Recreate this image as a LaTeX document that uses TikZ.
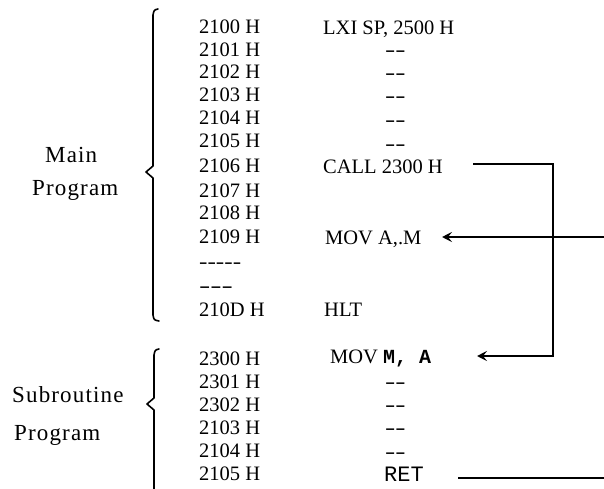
\documentclass[tikz,border=0pt]{standalone}
\usepackage{fontspec}
\setmainfont{Liberation Serif}
\setmonofont{Liberation Mono}
\usetikzlibrary{arrows.meta}
\newcommand{\dsh}[2]{\scalebox{#1}[1]{#2}}
\begin{document}
\begin{tikzpicture}[x=1pt,y=1pt,
  txt/.style={anchor=base west, inner sep=0pt, font=\fontsize{20.5}{24}\selectfont},
  mono/.style={anchor=base west, inner sep=0pt, font=\ttfamily\fontsize{20}{24}\selectfont},
  lbl/.style={anchor=base west, inner sep=0pt, font=\fontsize{23}{27}\selectfont\addfontfeatures{LetterSpace=5}},
  brace/.style={line width=1.6pt, line cap=round, line join=round},
  conn/.style={line width=1.4pt},
  arr/.style={conn, -{Stealth[length=10pt,width=10pt,inset=4pt]}}]
\useasboundingbox (0,0) rectangle (604,-489);

% labels
\node[lbl] (main) at (45,-163) {Main};
\node[lbl] (mprog) at (32,-195) {Program};
\node[lbl] (sub) at (12,-402) {Subroutine};
\node[lbl] (sprog) at (14,-440) {Program};

% braces
\draw[brace] (158,-9) .. controls (154,-10) .. (153,-15) -- (153,-166) -- (146,-172) -- (153,-178) -- (153,-315) .. controls (154,-320) .. (159,-321);
\draw[brace] (159,-349) .. controls (155,-350) .. (154,-355) -- (154,-398) -- (147,-404) -- (154,-410) -- (154,-489);

% main addresses
\node[txt] (a2100) at (199,-34) {2100 H};
\node[txt] (a2101) at (199,-57) {2101 H};
\node[txt] (a2102) at (199,-79) {2102 H};
\node[txt] (a2103) at (199,-102) {2103 H};
\node[txt] (a2104) at (199,-125) {2104 H};
\node[txt] (a2105) at (199,-148) {2105 H};
\node[txt] (a2106) at (199,-172) {2106 H};
\node[txt] (a2107) at (199,-197) {2107 H};
\node[txt] (a2108) at (199,-219) {2108 H};
\node[txt] (a2109) at (199,-243) {2109 H};
\node[txt] (gap1) at (199,-268) {\dsh{1.23}{{-}{-}{-}{-}{-}}};
\node[txt] (gap2) at (199,-292) {\dsh{1.65}{{-}{-}{-}}};
\node[txt] (a210D) at (199,-316) {210D H};

% main instructions
\node[txt] (lxi) at (323,-35) {LXI SP, 2500 H};
\node[txt] (d1) at (385,-57) {\dsh{1.5}{{-}{-}}};
\node[txt] (d2) at (385,-80) {\dsh{1.5}{{-}{-}}};
\node[txt] (d3) at (385,-103) {\dsh{1.5}{{-}{-}}};
\node[txt] (d4) at (385,-127) {\dsh{1.5}{{-}{-}}};
\node[txt] (d5) at (385,-150) {\dsh{1.5}{{-}{-}}};
\node[txt] (call) at (323,-173) {CALL 2300 H};
\node[txt] (movam) at (325,-244) {MOV A,.M};
\node[txt] (hlt) at (324,-316) {HLT};

% subroutine addresses
\node[txt] (s2300) at (199,-365) {2300 H};
\node[txt] (s2301) at (199,-388) {2301 H};
\node[txt] (s2302) at (199,-411) {2302 H};
\node[txt] (s2103) at (199,-434) {2103 H};
\node[txt] (s2104) at (199,-457) {2104 H};
\node[txt] (s2105) at (199,-480) {2105 H};

% subroutine instructions
\node[txt] (movma) at (330,-363) {MOV \texttt{\bfseries\fontsize{20}{24}\selectfont M, A}};
\node[txt] (e1) at (385,-388) {\dsh{1.5}{{-}{-}}};
\node[txt] (e2) at (385,-411) {\dsh{1.5}{{-}{-}}};
\node[txt] (e3) at (385,-434) {\dsh{1.5}{{-}{-}}};
\node[txt] (e4) at (385,-458) {\dsh{1.5}{{-}{-}}};
\node[mono, font=\ttfamily\fontsize{22}{26}\selectfont] (ret) at (384,-481) {RET};

% connector points
\coordinate (callout) at (473,-164);
\coordinate (corner1) at (553,-164);
\coordinate (corner2) at (553,-356);
\coordinate (subin) at (477,-356);
\coordinate (retin) at (604,-237);
\coordinate (movin) at (442,-237);
\coordinate (retout) at (458,-478);
\coordinate (retedge) at (604,-478);

% connectors
\draw[arr] (callout) -- (corner1) -- (corner2) -- (subin);
\draw[arr] (retin) -- (movin);
\draw[conn] (retout) -- (retedge);
\end{tikzpicture}
\end{document}
